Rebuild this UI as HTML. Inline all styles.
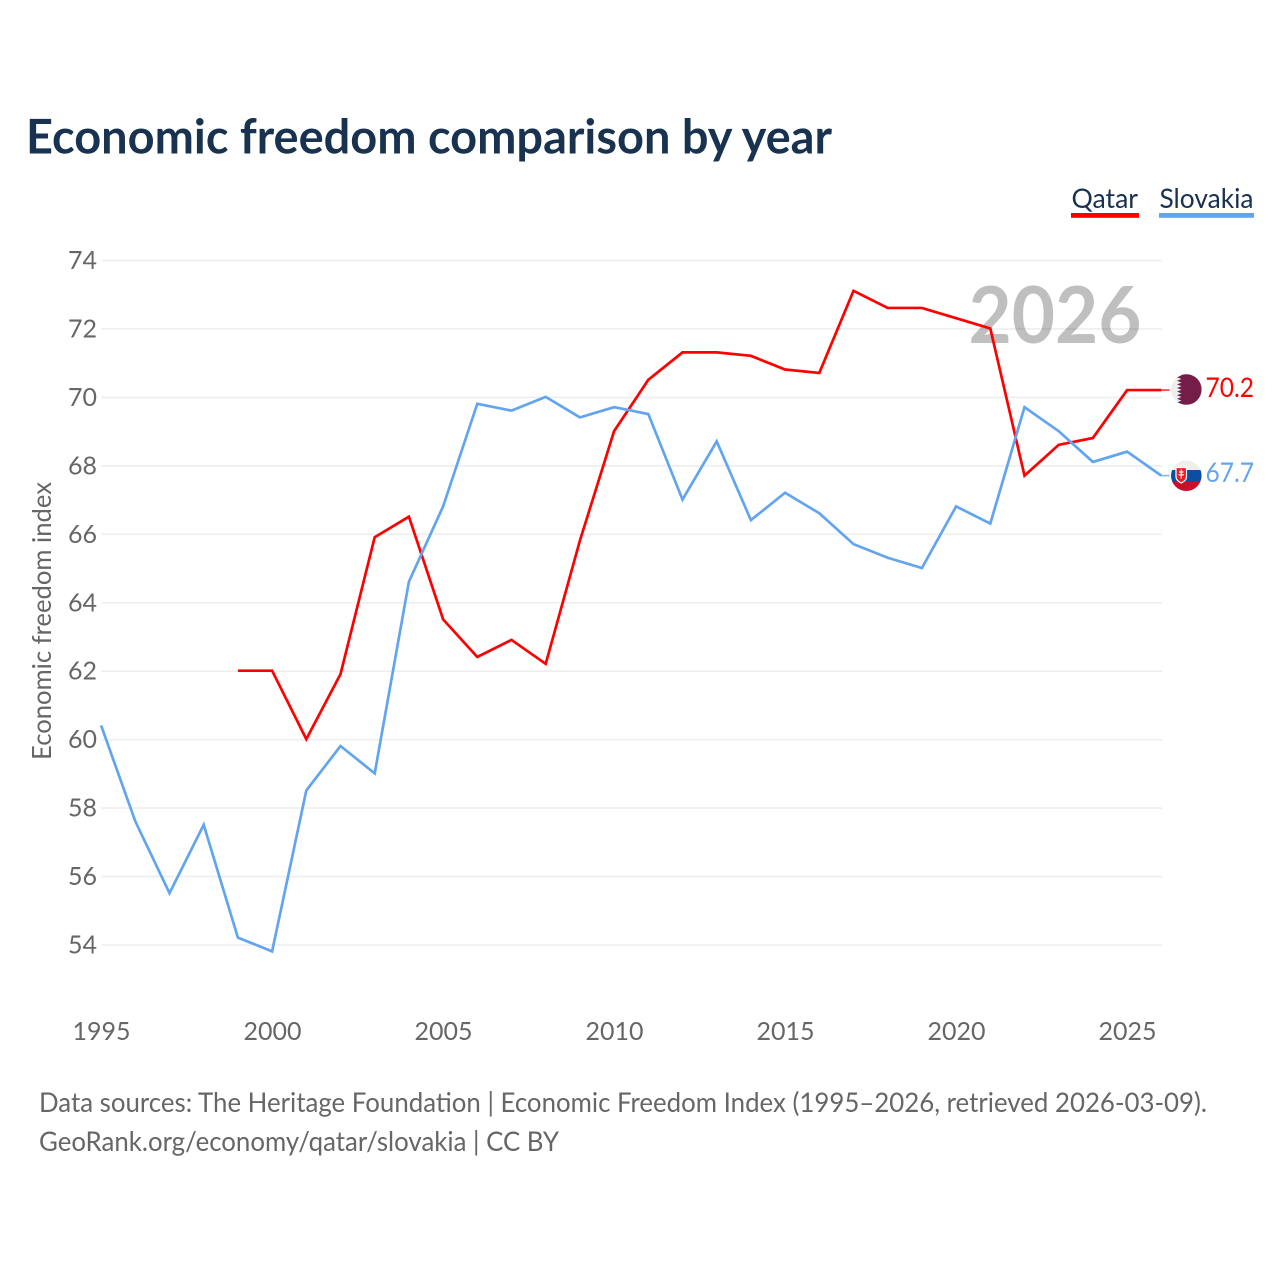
<!DOCTYPE html>
<html lang="en">
<head>
<meta charset="utf-8">
<title>Economic freedom comparison by year</title>
<style>
html,body{margin:0;padding:0;background:#fff;}
svg{display:block;font-family:"Lato","Carlito","Liberation Sans",sans-serif;}
</style>
</head>
<body>
<svg id="chart" xmlns="http://www.w3.org/2000/svg" width="1280" height="1280" viewBox="0 0 1280 1280">
  <defs>
    <clipPath id="flag-clip-qa"><circle cx="1186.300" cy="389.500" r="15.300"/></clipPath>
    <clipPath id="flag-clip-sk"><circle cx="1186.300" cy="475.700" r="15.300"/></clipPath>
  </defs>
  <rect x="0" y="0" width="1280" height="1280" fill="#ffffff"/>
  <text x="26" y="153.500" font-size="48" font-weight="700" fill="#18324f" textLength="806" lengthAdjust="spacingAndGlyphs">Economic freedom comparison by year</text>

  <g>
    <text x="1071.500" y="208" font-size="27.500" fill="#18324f" textLength="66.500" lengthAdjust="spacingAndGlyphs">Qatar</text>
    <rect x="1071" y="213" width="68" height="4.800" fill="#ff0000"/>
  </g>
  <g>
    <text x="1159.500" y="208" font-size="27.500" fill="#18324f" textLength="94" lengthAdjust="spacingAndGlyphs">Slovakia</text>
    <rect x="1159" y="213" width="95" height="4.800" fill="#62a5ee"/>
  </g>

  <g id="grid"></g>
  <text x="968.500" y="343" font-size="79" font-weight="700" fill="#000000" fill-opacity="0.25" textLength="173" lengthAdjust="spacingAndGlyphs">2026</text>
  <g id="y-ticks"></g>
  <g id="x-ticks"></g>
  <text transform="translate(51,760) rotate(-90)" x="0" y="0" font-size="26.500" fill="#666666" textLength="278" lengthAdjust="spacingAndGlyphs">Economic freedom index</text>
  <g id="series" transform="translate(-0.4,-0.5)"></g>

  <g clip-path="url(#flag-clip-qa)">
    <rect x="1170" y="373" width="33" height="33" fill="#eeeeee"/>
    <polygon points="1177,373 1203,373 1203,406 1177,406 1181.500,404.200 1177,402.400 1181.500,400.600 1177,398.800 1181.500,397 1177,395.200 1181.500,393.400 1177,391.600 1181.500,389.800 1177,388 1181.500,386.200 1177,384.400 1181.500,382.600 1177,380.800 1181.500,379 1177,377.200 1181.500,375.400" fill="#741d49"/>
  </g>
  <g clip-path="url(#flag-clip-sk)">
    <rect x="1170" y="460" width="33" height="11" fill="#eeeeee"/>
    <rect x="1170" y="470" width="33" height="11.500" fill="#0b4ea2"/>
    <rect x="1170" y="481.500" width="33" height="11" fill="#c8102e"/>
    <path d="M1176 467.500h10.500v9.500c0 3-2.800 4.800-5.250 6c-2.450-1.200-5.250-3-5.250-6z" fill="#ee1c25" stroke="#ffffff" stroke-width="1.200"/>
    <path d="M1181.250 469.500v9M1179 472h4.500M1178.500 474.800h5.500" stroke="#ffffff" stroke-width="1.200" fill="none"/>
  </g>
  <text x="1205.500" y="397" font-size="27" fill="#ff0000" textLength="48.500" lengthAdjust="spacingAndGlyphs">70.2</text>
  <text x="1205.500" y="482" font-size="27" fill="#62a5ee" textLength="48.500" lengthAdjust="spacingAndGlyphs">67.7</text>

  <text x="39" y="1112" font-size="27.500" fill="#666666" textLength="1168" lengthAdjust="spacingAndGlyphs">Data sources: The Heritage Foundation | Economic Freedom Index (1995–2026, retrieved 2026-03-09).</text>
  <text x="39" y="1151" font-size="27.500" fill="#666666" textLength="520" lengthAdjust="spacingAndGlyphs">GeoRank.org/economy/qatar/slovakia | CC BY</text>
</svg>
<script>
const years = [1995,1996,1997,1998,1999,2000,2001,2002,2003,2004,2005,2006,2007,2008,2009,2010,2011,2012,2013,2014,2015,2016,2017,2018,2019,2020,2021,2022,2023,2024,2025,2026];
const qatarValues = [null,null,null,null,62,62,60,61.9,65.9,66.5,63.5,62.4,62.9,62.2,65.8,69,70.5,71.3,71.3,71.2,70.8,70.7,73.1,72.6,72.6,72.3,72,67.7,68.6,68.8,70.2,70.2];
const slovakiaValues = [60.4,57.6,55.5,57.5,54.2,53.8,58.5,59.8,59,64.6,66.8,69.8,69.6,70,69.4,69.7,69.5,67,68.7,66.4,67.2,66.6,65.7,65.3,65,66.8,66.3,69.7,69,68.1,68.4,67.7];
const yTickValues = [54,56,58,60,62,64,66,68,70,72,74];
const xTickValues = [1995,2000,2005,2010,2015,2020,2025];

const NS = 'http://www.w3.org/2000/svg';
function xScale(year) { return 101.5 + (year - 1995) * (1127.5 - 101.5) / 30; }
function yScale(value) { return 945 - (value - 54) * (945 - 260.5) / 20; }
function make(tag, attrs, parent) {
  const el = document.createElementNS(NS, tag);
  for (const k in attrs) el.setAttribute(k, attrs[k]);
  parent.appendChild(el);
  return el;
}

const grid = document.getElementById('grid');
const yTicks = document.getElementById('y-ticks');
yTickValues.forEach(function (v) {
  const line = make('line', {x1: 101.5, x2: 1162, y1: yScale(v), y2: yScale(v), stroke: '#eeeeee', 'stroke-width': 1.6}, grid);
  
  
  const label = make('text', {x: 97, y: yScale(v) + 8.5, 'font-size': 25, fill: '#666666', 'text-anchor': 'end'}, yTicks);
  
  
  label.textContent = v;
});

const xTicks = document.getElementById('x-ticks');
xTickValues.forEach(function (y) {
  const label = make('text', {x: xScale(y), y: 1040, 'font-size': 25, fill: '#666666', 'text-anchor': 'middle'}, xTicks);
  
  
  label.textContent = y;
});

const seriesGroup = document.getElementById('series');
function drawSeries(values, color, name) {
  const pts = [];
  values.forEach(function (v, i) {
    if (v !== null) pts.push(xScale(years[i]).toFixed(2) + ',' + yScale(v).toFixed(2));
  });
  const line = make('polyline', {points: pts.join(' '), fill: 'none', stroke: color, 'stroke-width': 2.7, 'stroke-linejoin': 'miter'}, seriesGroup);
  
  
  const last = values[values.length - 1];
  const stub = make('line', {x1: xScale(years[years.length - 1]), x2: 1170, y1: yScale(last), y2: yScale(last), stroke: color, 'stroke-width': 1.6, 'stroke-opacity': 0.8}, seriesGroup);
  
  
}
drawSeries(qatarValues, '#ff0000', 'line-qatar');
drawSeries(slovakiaValues, '#62a5ee', 'line-slovakia');
</script>
</body>
</html>
